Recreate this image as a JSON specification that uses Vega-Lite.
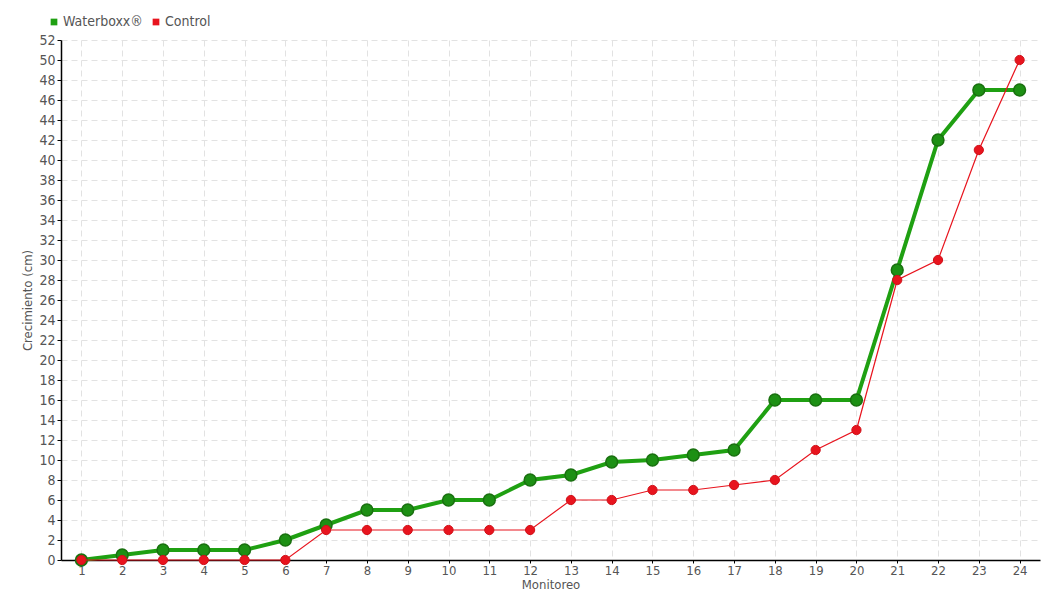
{
  "$schema": "https://vega.github.io/schema/vega-lite/v6.json",
  "width": 979,
  "height": 520,
  "autosize": {"type": "none"},
  "padding": {"left": 61, "top": 40, "right": 20, "bottom": 40},
  "background": "white",
  "config": {
    "view": {"stroke": null},
    "font": "DejaVu Sans Condensed",
    "axis": {"labelColor": "#555", "titleColor": "#555", "labelFont": "DejaVu Sans Condensed", "titleFont": "DejaVu Sans Condensed", "titleFontWeight": "normal"}
  },
  "data": {"values": [
    {"Monitoreo": 1, "Serie": "Waterboxx®", "valor": 0},
    {"Monitoreo": 2, "Serie": "Waterboxx®", "valor": 0.5},
    {"Monitoreo": 3, "Serie": "Waterboxx®", "valor": 1},
    {"Monitoreo": 4, "Serie": "Waterboxx®", "valor": 1},
    {"Monitoreo": 5, "Serie": "Waterboxx®", "valor": 1},
    {"Monitoreo": 6, "Serie": "Waterboxx®", "valor": 2},
    {"Monitoreo": 7, "Serie": "Waterboxx®", "valor": 3.5},
    {"Monitoreo": 8, "Serie": "Waterboxx®", "valor": 5},
    {"Monitoreo": 9, "Serie": "Waterboxx®", "valor": 5},
    {"Monitoreo": 10, "Serie": "Waterboxx®", "valor": 6},
    {"Monitoreo": 11, "Serie": "Waterboxx®", "valor": 6},
    {"Monitoreo": 12, "Serie": "Waterboxx®", "valor": 8},
    {"Monitoreo": 13, "Serie": "Waterboxx®", "valor": 8.5},
    {"Monitoreo": 14, "Serie": "Waterboxx®", "valor": 9.8},
    {"Monitoreo": 15, "Serie": "Waterboxx®", "valor": 10},
    {"Monitoreo": 16, "Serie": "Waterboxx®", "valor": 10.5},
    {"Monitoreo": 17, "Serie": "Waterboxx®", "valor": 11},
    {"Monitoreo": 18, "Serie": "Waterboxx®", "valor": 16},
    {"Monitoreo": 19, "Serie": "Waterboxx®", "valor": 16},
    {"Monitoreo": 20, "Serie": "Waterboxx®", "valor": 16},
    {"Monitoreo": 21, "Serie": "Waterboxx®", "valor": 29},
    {"Monitoreo": 22, "Serie": "Waterboxx®", "valor": 42},
    {"Monitoreo": 23, "Serie": "Waterboxx®", "valor": 47},
    {"Monitoreo": 24, "Serie": "Waterboxx®", "valor": 47},
    {"Monitoreo": 1, "Serie": "Control", "valor": 0},
    {"Monitoreo": 2, "Serie": "Control", "valor": 0},
    {"Monitoreo": 3, "Serie": "Control", "valor": 0},
    {"Monitoreo": 4, "Serie": "Control", "valor": 0},
    {"Monitoreo": 5, "Serie": "Control", "valor": 0},
    {"Monitoreo": 6, "Serie": "Control", "valor": 0},
    {"Monitoreo": 7, "Serie": "Control", "valor": 3},
    {"Monitoreo": 8, "Serie": "Control", "valor": 3},
    {"Monitoreo": 9, "Serie": "Control", "valor": 3},
    {"Monitoreo": 10, "Serie": "Control", "valor": 3},
    {"Monitoreo": 11, "Serie": "Control", "valor": 3},
    {"Monitoreo": 12, "Serie": "Control", "valor": 3},
    {"Monitoreo": 13, "Serie": "Control", "valor": 6},
    {"Monitoreo": 14, "Serie": "Control", "valor": 6},
    {"Monitoreo": 15, "Serie": "Control", "valor": 7},
    {"Monitoreo": 16, "Serie": "Control", "valor": 7},
    {"Monitoreo": 17, "Serie": "Control", "valor": 7.5},
    {"Monitoreo": 18, "Serie": "Control", "valor": 8},
    {"Monitoreo": 19, "Serie": "Control", "valor": 11},
    {"Monitoreo": 20, "Serie": "Control", "valor": 13},
    {"Monitoreo": 21, "Serie": "Control", "valor": 28},
    {"Monitoreo": 22, "Serie": "Control", "valor": 30},
    {"Monitoreo": 23, "Serie": "Control", "valor": 41},
    {"Monitoreo": 24, "Serie": "Control", "valor": 50}
  ]},
  "encoding": {
    "x": {
      "field": "Monitoreo", "type": "quantitative",
      "scale": {"domain": [0.5, 24.5], "nice": false, "zero": false},
      "axis": {
        "title": "Monitoreo", "values": [1,2,3,4,5,6,7,8,9,10,11,12,13,14,15,16,17,18,19,20,21,22,23,24],
        "format": "d", "labelFontSize": 13, "titleFontSize": 13, "titlePadding": 1,
        "domainColor": "#000", "domainWidth": 1.5, "tickColor": "#000", "tickSize": 3,
        "labelPadding": 1,
        "grid": true, "gridDash": [6, 4], "gridColor": "#e2e2e2"
      }
    },
    "y": {
      "field": "valor", "type": "quantitative",
      "scale": {"domain": [0, 52], "nice": false},
      "axis": {
        "title": "Crecimiento (cm)", "values": [0,2,4,6,8,10,12,14,16,18,20,22,24,26,28,30,32,34,36,38,40,42,44,46,48,50,52],
        "labelFontSize": 14, "titleFontSize": 13, "titlePadding": 4,
        "domainColor": "#000", "domainWidth": 1.5, "tickColor": "#000", "tickSize": 4,
        "labelPadding": 2,
        "grid": true, "gridDash": [6, 4], "gridColor": "#e2e2e2"
      }
    },
    "color": {
      "field": "Serie", "type": "nominal",
      "scale": {"domain": ["Waterboxx®", "Control"], "range": ["#1fa012", "#e8141e"]},
      "legend": {
        "title": null, "orient": "none", "legendX": -14, "legendY": -25, "direction": "horizontal",
        "symbolType": "square", "symbolSize": 45, "symbolStrokeWidth": 0, "labelFontSize": 14, "labelColor": "#555",
        "labelFont": "DejaVu Sans Condensed", "columnPadding": 6, "labelOffset": 2
      }
    }
  },
  "layer": [
    {
      "transform": [{"filter": "datum.Serie === 'Waterboxx®'"}],
      "mark": {"type": "line", "strokeWidth": 4}
    },
    {
      "transform": [{"filter": "datum.Serie === 'Waterboxx®'"}],
      "mark": {"type": "point", "filled": true, "size": 140, "fill": "#1d9014", "stroke": "#19700f", "strokeWidth": 1.5, "opacity": 1}
    },
    {
      "transform": [{"filter": "datum.Serie === 'Control'"}],
      "mark": {"type": "line", "strokeWidth": 1.2, "color": "#f0404a"}
    },
    {
      "transform": [{"filter": "datum.Serie === 'Control'"}],
      "mark": {"type": "point", "filled": true, "size": 85, "fill": "#e8141e", "stroke": "#d01018", "strokeWidth": 1, "opacity": 1}
    }
  ]
}
